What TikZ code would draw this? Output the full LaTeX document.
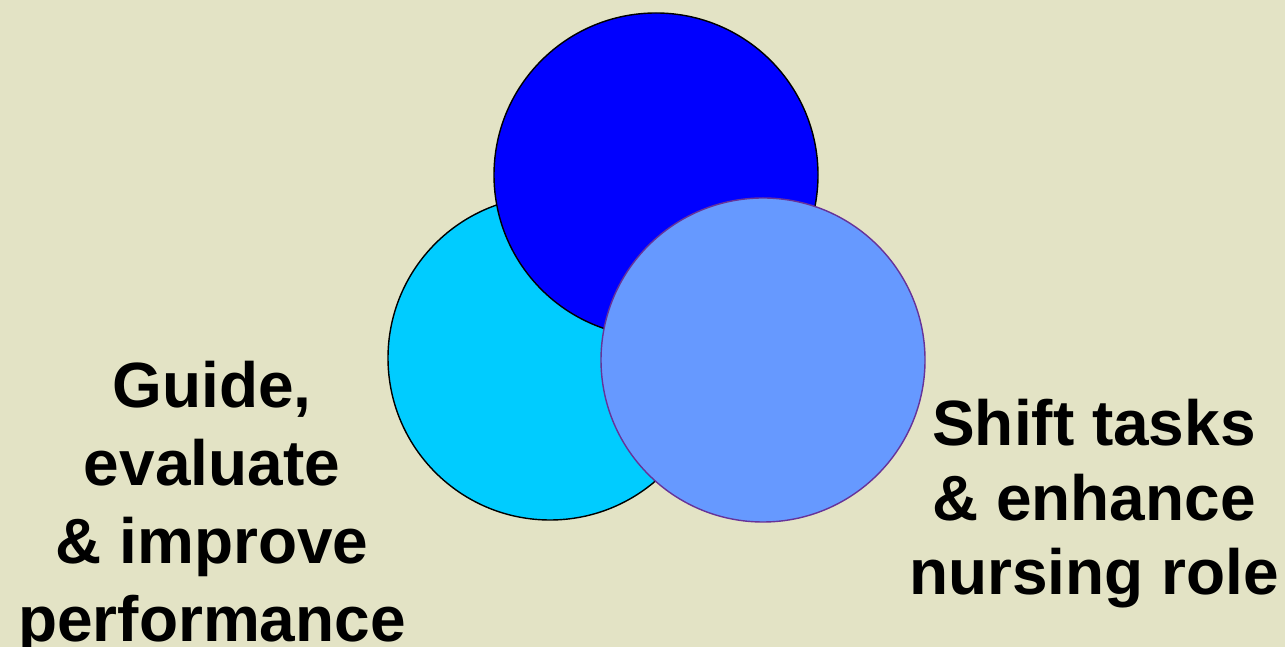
\documentclass[tikz,border=0pt]{standalone}
\usepackage{fontspec}
\setmainfont{Liberation Sans}
\usetikzlibrary{positioning}
\definecolor{slidebg}{RGB}{227,227,197}
\definecolor{ringcyan}{RGB}{0,204,255}
\definecolor{ringblue}{RGB}{0,0,255}
\definecolor{ringsky}{RGB}{102,153,255}
\definecolor{ringedge}{RGB}{102,51,153}
\tikzset{
  ring/.style={circle, draw=black, line width=0.4pt, minimum size=3.24cm, inner sep=0pt},
  ringtext/.style={align=center, inner sep=0pt, font=\fontsize{18.2pt}{22.2pt}\selectfont\bfseries}
}
\begin{document}
\begin{tikzpicture}
  \fill[slidebg] (0,0) rectangle (12.85,6.47);
  \useasboundingbox (0,0) rectangle (12.85,6.47);
  \node[ring, fill=ringcyan] (evalring) at (5.50,2.89) {};
  \node[ring, fill=ringblue] (topring) at (6.56,4.72) {};
  \node[ring, fill=ringsky, draw=ringedge] (shiftring) at (7.63,2.87) {};
  \node[ringtext, anchor=base] (guide) at (2.12,0.05) {Guide,\\evaluate\\\& improve\\performance};
  \node[ringtext, anchor=base, font=\fontsize{18.2pt}{21.3pt}\selectfont\bfseries] (shift) at (10.94,0.52) {Shift tasks\\\& enhance\\nursing role};
\end{tikzpicture}
\end{document}
